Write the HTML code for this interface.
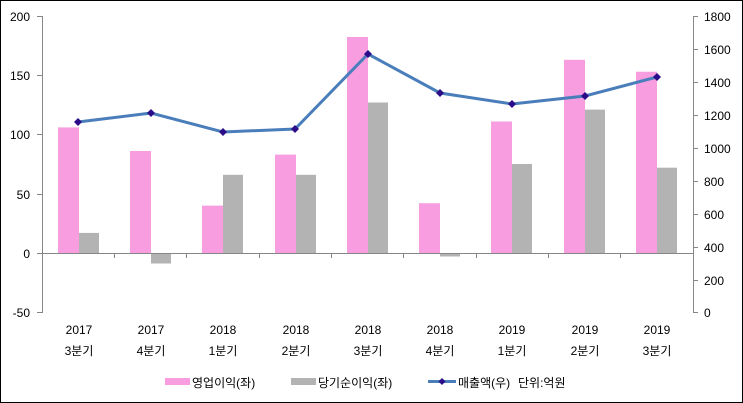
<!DOCTYPE html>
<html><head><meta charset="utf-8"><style>
html,body{margin:0;padding:0;background:#fff}
svg{display:block}
text{font-family:"Liberation Sans","Noto Sans CJK KR",sans-serif;font-size:12px;fill:#000}
</style></head><body>
<svg width="743" height="403" viewBox="0 0 743 403" xmlns="http://www.w3.org/2000/svg">
<rect x="0.5" y="0.5" width="742" height="402" fill="#fff" stroke="#000"/>
<g fill="#f79de0">
<rect x="58" y="127.4" width="21" height="125.6"/>
<rect x="130" y="151" width="21" height="102"/>
<rect x="202" y="205.6" width="21" height="47.4"/>
<rect x="275" y="154.6" width="21" height="98.4"/>
<rect x="347" y="37" width="21" height="216"/>
<rect x="419" y="203.2" width="21" height="49.8"/>
<rect x="491" y="121.5" width="21" height="131.5"/>
<rect x="564" y="59.8" width="21" height="193.2"/>
<rect x="636" y="71.7" width="21" height="181.3"/>
</g>
<g fill="#b3b3b3">
<rect x="79" y="232.9" width="20" height="20.1"/>
<rect x="151" y="253" width="20" height="10.5"/>
<rect x="223" y="174.8" width="20" height="78.2"/>
<rect x="296" y="174.8" width="20" height="78.2"/>
<rect x="368" y="102.5" width="20" height="150.5"/>
<rect x="440" y="253" width="20" height="3.5"/>
<rect x="512" y="164" width="20" height="89"/>
<rect x="585" y="109.6" width="20" height="143.4"/>
<rect x="657" y="167.7" width="20" height="85.3"/>
</g>
<g stroke="#868686" stroke-width="1" fill="none">
<line x1="42.5" y1="16" x2="42.5" y2="313"/>
<line x1="37" y1="16.5" x2="42" y2="16.5"/><line x1="37" y1="75.5" x2="42" y2="75.5"/><line x1="37" y1="134.5" x2="42" y2="134.5"/><line x1="37" y1="194.5" x2="42" y2="194.5"/><line x1="37" y1="253.5" x2="42" y2="253.5"/><line x1="37" y1="312.5" x2="42" y2="312.5"/>
<line x1="42" y1="253.5" x2="693" y2="253.5"/>
<line x1="114.5" y1="253" x2="114.5" y2="258"/><line x1="186.5" y1="253" x2="186.5" y2="258"/><line x1="259.5" y1="253" x2="259.5" y2="258"/><line x1="331.5" y1="253" x2="331.5" y2="258"/><line x1="403.5" y1="253" x2="403.5" y2="258"/><line x1="476.5" y1="253" x2="476.5" y2="258"/><line x1="548.5" y1="253" x2="548.5" y2="258"/><line x1="620.5" y1="253" x2="620.5" y2="258"/>
<line x1="693.5" y1="16" x2="693.5" y2="313"/>
<line x1="693" y1="16.5" x2="698" y2="16.5"/><line x1="693" y1="49.5" x2="698" y2="49.5"/><line x1="693" y1="82.5" x2="698" y2="82.5"/><line x1="693" y1="115.5" x2="698" y2="115.5"/><line x1="693" y1="148.5" x2="698" y2="148.5"/><line x1="693" y1="181.5" x2="698" y2="181.5"/><line x1="693" y1="214.5" x2="698" y2="214.5"/><line x1="693" y1="247.5" x2="698" y2="247.5"/><line x1="693" y1="280.5" x2="698" y2="280.5"/><line x1="693" y1="312.5" x2="698" y2="312.5"/>
</g>
<polyline points="78,122 151,113 223,132 295,129 368,54 440,93 512,104 585,96 657,77" fill="none" stroke="#4a7ebb" stroke-width="3"/>
<g fill="#2b0d8a">
<path d="M78,118 l4,4 -4,4 -4,-4z"/><path d="M151,109 l4,4 -4,4 -4,-4z"/><path d="M223,128 l4,4 -4,4 -4,-4z"/><path d="M295,125 l4,4 -4,4 -4,-4z"/><path d="M368,50 l4,4 -4,4 -4,-4z"/><path d="M440,89 l4,4 -4,4 -4,-4z"/><path d="M512,100 l4,4 -4,4 -4,-4z"/><path d="M585,92 l4,4 -4,4 -4,-4z"/><path d="M657,73 l4,4 -4,4 -4,-4z"/>
</g>
<g text-anchor="end">
<text x="30" y="21">200</text><text x="30" y="80">150</text><text x="30" y="139">100</text><text x="30" y="199">50</text><text x="30" y="258">0</text><text x="30" y="317">-50</text>
</g>
<g text-anchor="start">
<text x="704" y="21">1800</text><text x="704" y="54">1600</text><text x="704" y="87">1400</text><text x="704" y="120">1200</text><text x="704" y="153">1000</text><text x="704" y="186">800</text><text x="704" y="219">600</text><text x="704" y="252">400</text><text x="704" y="285">200</text><text x="704" y="317">0</text>
</g>
<g text-anchor="middle">
<text x="79" y="334">2017</text><text x="79" y="355">3분기</text>
<text x="151" y="334">2017</text><text x="151" y="355">4분기</text>
<text x="223" y="334">2018</text><text x="223" y="355">1분기</text>
<text x="296" y="334">2018</text><text x="296" y="355">2분기</text>
<text x="368" y="334">2018</text><text x="368" y="355">3분기</text>
<text x="440" y="334">2018</text><text x="440" y="355">4분기</text>
<text x="512" y="334">2019</text><text x="512" y="355">1분기</text>
<text x="585" y="334">2019</text><text x="585" y="355">2분기</text>
<text x="657" y="334">2019</text><text x="657" y="355">3분기</text>
</g>
<rect x="165" y="378" width="25" height="7" fill="#f79de0"/>
<text x="192" y="387">영업이익(좌)</text>
<rect x="291" y="378" width="25" height="7" fill="#b3b3b3"/>
<text x="318" y="387">당기순이익(좌)</text>
<line x1="428" y1="381.5" x2="456" y2="381.5" stroke="#4a7ebb" stroke-width="3"/>
<path d="M442,378 l3.5,3.5 -3.5,3.5 -3.5,-3.5z" fill="#2b0d8a"/>
<text x="458" y="387">매출액(우)</text>
<text x="518" y="387">단위:억원</text>
</svg>
</body></html>
